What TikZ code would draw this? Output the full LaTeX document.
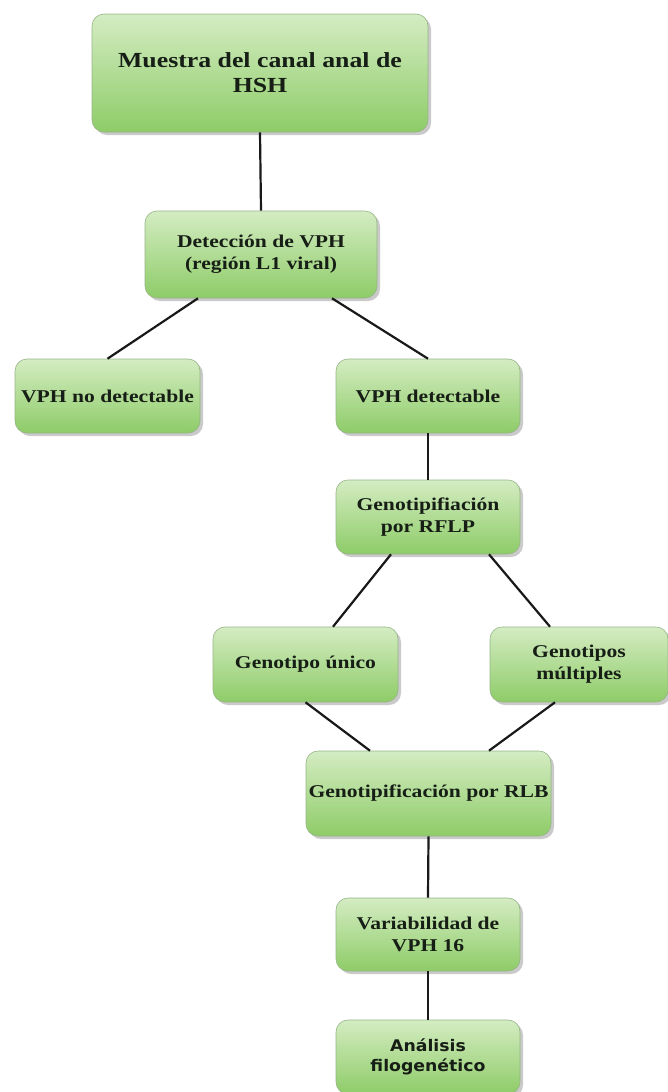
\documentclass[tikz,border=0pt]{standalone}
\usepackage{fontspec}
\newfontfamily\cajafont{Liberation Serif}[FakeStretch=1.2]
\newfontfamily\cajasans{DejaVu Sans}[FakeStretch=1.08]
\usetikzlibrary{shadows}

\definecolor{verdeclaro}{RGB}{212,236,194}
\definecolor{verdeoscuro}{RGB}{142,204,104}
\definecolor{bordeverde}{RGB}{150,180,135}
\definecolor{textocaja}{RGB}{22,30,22}

\tikzset{
    etapa/.style={draw=bordeverde, line width=0.6pt, rounded corners=12pt,
        top color=verdeclaro, bottom color=verdeoscuro, align=center,
        inner sep=2pt, text=textocaja,
        font=\cajafont\bfseries\fontsize{18}{22}\selectfont,
        drop shadow={shadow xshift=3pt, shadow yshift=-3pt, opacity=0.35, fill=black!60}},
    enlace/.style={line width=2.2pt, black!90}
}

\begin{document}
\begin{tikzpicture}[x=1pt, y=-1pt]
    \useasboundingbox (0,0) rectangle (668,1092);

    % Etapas
    \node[etapa, minimum width=336pt, minimum height=118pt,
        font=\cajafont\bfseries\fontsize{21.5}{25}\selectfont] (muestra) at (260,73)
        {Muestra del canal anal de\\ HSH};
    \node[etapa, minimum width=232pt, minimum height=87pt] (deteccion) at (261,254.5)
        {Detección de VPH\\ (región L1 viral)};

    \node[etapa, minimum width=185pt, minimum height=74pt] (nodet) at (107.5,396)
        {VPH no detectable};
    \node[etapa, minimum width=184pt, minimum height=74pt] (det) at (428,396)
        {VPH detectable};

    \node[etapa, minimum width=184pt, minimum height=74pt] (rflp) at (428,517)
        {Genotipifiación\\ por RFLP};

    \node[etapa, minimum width=185pt, minimum height=75pt] (unico) at (305.5,664.5)
        {Genotipo único};
    \node[etapa, minimum width=178pt, minimum height=75pt] (multiples) at (579,664.5)
        {Genotipos\\ múltiples};

    \node[etapa, minimum width=245pt, minimum height=85pt] (rlb) at (428.5,793.5)
        {Genotipificación por RLB};
    \node[etapa, minimum width=184pt, minimum height=73pt] (variab) at (428,934.5)
        {Variabilidad de\\ VPH 16};
    \node[etapa, minimum width=184pt, minimum height=74pt,
        font=\cajasans\bfseries\fontsize{16}{20}\selectfont] (filog) at (428,1057)
        {Análisis\\ filogenético};

    % Enlaces
    \draw[enlace] (muestra.south) -- (deteccion.north);
    \draw[enlace] ([xshift=-63pt]deteccion.south) -- (nodet.north);
    \draw[enlace] ([xshift=71pt]deteccion.south) -- (det.north);
    \draw[enlace] (det.south) -- (rflp.north);
    \draw[enlace] ([xshift=-37pt]rflp.south) -- ([xshift=27.5pt]unico.north);
    \draw[enlace] ([xshift=61pt]rflp.south) -- ([xshift=-29pt]multiples.north);
    \draw[enlace] (unico.south) -- ([xshift=-58.5pt]rlb.north);
    \draw[enlace] ([xshift=-24pt]multiples.south) -- ([xshift=60.5pt]rlb.north);
    \draw[enlace] (rlb.south) -- (variab.north);
    \draw[enlace] (variab.south) -- (filog.north);
\end{tikzpicture}
\end{document}
